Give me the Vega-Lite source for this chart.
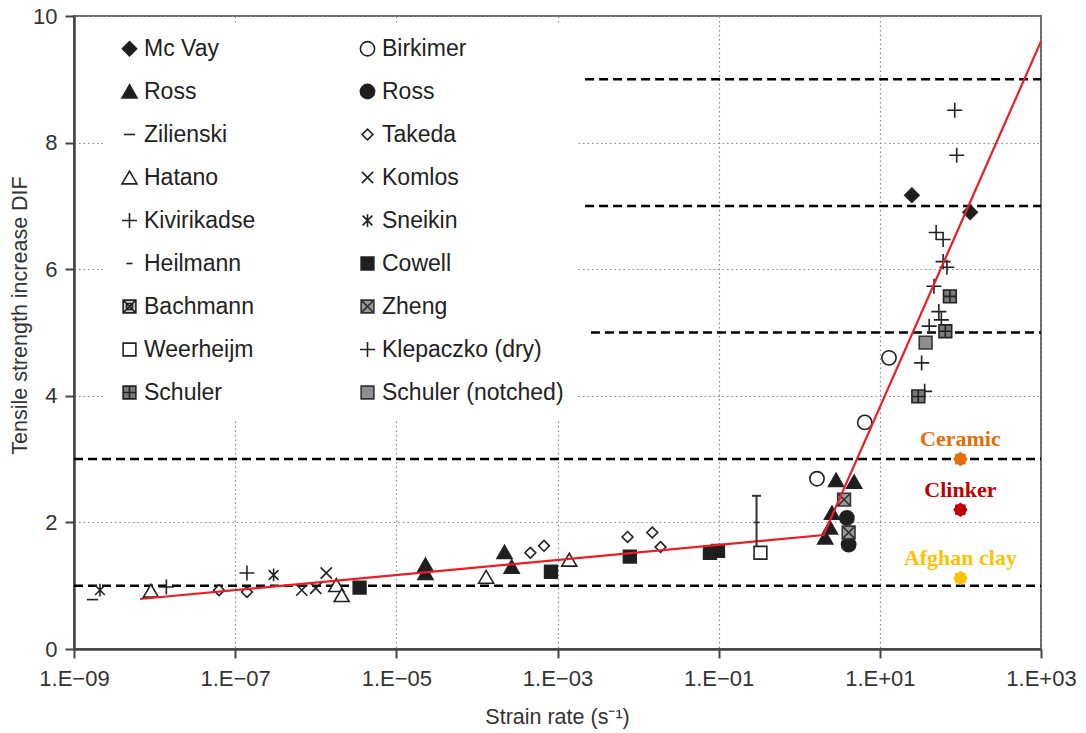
{
  "$schema": "https://vega.github.io/schema/vega-lite/v6.json",
  "width": 967,
  "height": 633,
  "autosize": "none",
  "padding": {"left": 74, "top": 16, "right": 45, "bottom": 84},
  "background": "white",
  "config": {
    "view": {"stroke": "#6a6a6a", "strokeWidth": 2},
    "font": "Liberation Sans"
  },
  "datasets": {
    "guides": [
      {"y": 1, "x0": 1e-9, "x1": 1000},
      {"y": 3, "x0": 1e-9, "x1": 1000},
      {"y": 5, "x0": 0.0026, "x1": 1000},
      {"y": 7, "x0": 0.0022, "x1": 1000},
      {"y": 9, "x0": 0.0022, "x1": 1000}
    ],
    "fit": [
      {"x": 6.6e-9, "y": 0.79},
      {"x": 2.0, "y": 1.8},
      {"x": 1000, "y": 9.6}
    ],
    "tests": [
      {"study": "Zilienski", "x": 1.7e-9, "y": 0.78},
      {"study": "Sneikin", "x": 2.1e-9, "y": 0.93},
      {"study": "Sneikin", "x": 3.0e-7, "y": 1.17},
      {"study": "Hatano", "x": 9.0e-9, "y": 0.92},
      {"study": "Hatano", "x": 1.8e-6, "y": 1.01},
      {"study": "Hatano", "x": 2.1e-6, "y": 0.85},
      {"study": "Hatano", "x": 1.3e-4, "y": 1.14},
      {"study": "Hatano", "x": 1.4e-3, "y": 1.41},
      {"study": "Kivirikadse", "x": 1.4e-8, "y": 0.98},
      {"study": "Kivirikadse", "x": 1.4e-7, "y": 1.2},
      {"study": "Takeda", "x": 6.3e-8, "y": 0.93},
      {"study": "Takeda", "x": 1.4e-7, "y": 0.9},
      {"study": "Takeda", "x": 4.6e-4, "y": 1.52},
      {"study": "Takeda", "x": 6.8e-4, "y": 1.63},
      {"study": "Takeda", "x": 7.4e-3, "y": 1.77},
      {"study": "Takeda", "x": 1.5e-2, "y": 1.84},
      {"study": "Takeda", "x": 1.9e-2, "y": 1.61},
      {"study": "Komlos", "x": 6.7e-7, "y": 0.93},
      {"study": "Komlos", "x": 1.0e-6, "y": 0.96},
      {"study": "Komlos", "x": 1.35e-6, "y": 1.2},
      {"study": "Cowell", "x": 3.5e-6, "y": 0.97},
      {"study": "Cowell", "x": 8.3e-4, "y": 1.22},
      {"study": "Cowell", "x": 7.9e-3, "y": 1.46},
      {"study": "Cowell", "x": 0.078, "y": 1.52},
      {"study": "Cowell", "x": 0.098, "y": 1.55},
      {"study": "Ross", "x": 2.3e-5, "y": 1.33},
      {"study": "Ross", "x": 2.3e-5, "y": 1.2},
      {"study": "Ross", "x": 2.2e-4, "y": 1.53},
      {"study": "Ross", "x": 2.7e-4, "y": 1.3},
      {"study": "Ross", "x": 2.86, "y": 2.67},
      {"study": "Ross", "x": 4.8, "y": 2.64},
      {"study": "Ross", "x": 2.55, "y": 2.15},
      {"study": "Ross", "x": 2.1, "y": 1.76},
      {"study": "Ross", "x": 2.4, "y": 1.92},
      {"study": "Weerheijm", "x": 0.33, "y": 1.52},
      {"study": "Heilmann", "x": 0.295, "y": 2.0},
      {"study": "Birkimer", "x": 1.66, "y": 2.69},
      {"study": "Birkimer", "x": 6.5, "y": 3.58},
      {"study": "Birkimer", "x": 13, "y": 4.6},
      {"study": "Ross ", "x": 3.9, "y": 2.07},
      {"study": "Ross ", "x": 4.1, "y": 1.65},
      {"study": "Zheng", "x": 3.6, "y": 2.36},
      {"study": "Zheng", "x": 4.1, "y": 1.84},
      {"study": "Mc Vay", "x": 25, "y": 7.17},
      {"study": "Mc Vay", "x": 132, "y": 6.9},
      {"study": "Klepaczko (dry)", "x": 85, "y": 8.51},
      {"study": "Klepaczko (dry)", "x": 90, "y": 7.8},
      {"study": "Klepaczko (dry)", "x": 50, "y": 6.58},
      {"study": "Klepaczko (dry)", "x": 61, "y": 6.47},
      {"study": "Klepaczko (dry)", "x": 61, "y": 6.12},
      {"study": "Klepaczko (dry)", "x": 68, "y": 6.03},
      {"study": "Klepaczko (dry)", "x": 47, "y": 5.73},
      {"study": "Klepaczko (dry)", "x": 54, "y": 5.33},
      {"study": "Klepaczko (dry)", "x": 58, "y": 5.2},
      {"study": "Klepaczko (dry)", "x": 41, "y": 5.1},
      {"study": "Klepaczko (dry)", "x": 33, "y": 4.52},
      {"study": "Klepaczko (dry)", "x": 36, "y": 4.07},
      {"study": "Schuler", "x": 74, "y": 5.57},
      {"study": "Schuler", "x": 65, "y": 5.02},
      {"study": "Schuler", "x": 30, "y": 3.99},
      {"study": "Schuler (notched)", "x": 37, "y": 4.84}
    ],
    "spread": [
      {"x": 0.295, "lo": 1.62, "hi": 2.42}
    ],
    "materials": [
      {"material": "Ceramic", "x": 100, "y": 3.0},
      {"material": "Clinker", "x": 100, "y": 2.2},
      {"material": "Afghan clay", "x": 100, "y": 1.12}
    ]
  },
  "layer": [
    {
      "data": {"name": "guides"},
      "mark": {"type": "rule", "color": "black", "strokeWidth": 2.5, "strokeDash": [9, 5]},
      "encoding": {
        "x": {
          "field": "x0",
          "type": "quantitative",
          "scale": {"type": "log", "domain": [1e-9, 1000], "nice": false},
          "axis": {
            "values": [1e-9, 1e-7, 1e-5, 0.001, 0.1, 10, 1000],
            "labelExpr": "'1.E' + (datum.value < 1 ? '\u2212' : '+') + (abs(round(log(datum.value) / LN10)) < 10 ? '0' : '') + abs(round(log(datum.value) / LN10))",
            "title": "Strain rate (s\u207B\u00B9)",
            "grid": true,
            "gridColor": "#8a8a8a",
            "gridDash": [1.5, 3],
            "gridWidth": 1.2,
            "domainColor": "#444",
            "domainWidth": 2.5,
            "tickColor": "#444",
            "tickWidth": 2,
            "tickSize": 9,
            "labelFont": "Liberation Sans",
            "labelFontSize": 22,
            "labelColor": "#333",
            "labelPadding": 10,
            "labelFlush": false,
            "labelOverlap": false,
            "titleFont": "Liberation Sans",
            "titleFontSize": 21.5,
            "titleFontWeight": "normal",
            "titleColor": "#333",
            "titleX": 483,
            "titleY": 68,
            "titleBaseline": "middle"
          }
        },
        "x2": {"field": "x1"},
        "y": {
          "field": "y",
          "type": "quantitative",
          "scale": {"domain": [0, 10], "nice": false, "zero": true},
          "axis": {
            "values": [0, 2, 4, 6, 8, 10],
            "format": "d",
            "title": "Tensile strength increase DIF",
            "grid": true,
            "gridColor": "#8a8a8a",
            "gridDash": [1.5, 3],
            "gridWidth": 1.2,
            "domainColor": "#444",
            "domainWidth": 2.5,
            "tickColor": "#444",
            "tickWidth": 2,
            "tickSize": 9,
            "labelFont": "Liberation Sans",
            "labelFontSize": 22,
            "labelColor": "#333",
            "labelPadding": 8,
            "labelFlush": false,
            "titleFont": "Liberation Sans",
            "titleFontSize": 21.5,
            "titleFontWeight": "normal",
            "titleColor": "#333",
            "titleX": -54,
            "titleY": 299,
            "titleAngle": -90,
            "titleAlign": "center",
            "titleBaseline": "middle"
          }
        }
      }
    },
    {
      "data": {"name": "tests"},
      "mark": {"type": "point", "filled": true, "opacity": 1, "strokeWidth": 1.6, "size": 225},
      "encoding": {
        "x": {"field": "x", "type": "quantitative", "scale": {"type": "log", "domain": [1e-9, 1000], "nice": false}},
        "y": {"field": "y", "type": "quantitative", "scale": {"domain": [0, 10], "nice": false}},
        "shape": {
          "field": "study",
          "type": "nominal",
          "scale": {
            "domain": ["Mc Vay", "Ross", "Zilienski", "Hatano", "Kivirikadse", "Heilmann", "Bachmann", "Weerheijm", "Schuler", "Birkimer", "Ross ", "Takeda", "Komlos", "Sneikin", "Cowell", "Zheng", "Klepaczko (dry)", "Schuler (notched)"],
            "range": [
              "M0,-0.95L0.95,0L0,0.95L-0.95,0Z",
              "M0,-0.9L1,0.85L-1,0.85Z",
              "M-0.75,0H0.75",
              "M0,-0.85L1,0.85L-1,0.85Z",
              "M-1,0H1M0,-1V1",
              "M-0.4,0H0.4",
              "M-0.85,-0.85H0.85V0.85H-0.85Z M-0.85,-0.85L0.85,0.85M0.85,-0.85L-0.85,0.85 M-0.4,-0.4H0.4V0.4H-0.4Z",
              "M-0.85,-0.85H0.85V0.85H-0.85Z",
              "M-0.85,-0.85H0.85V0.85H-0.85Z M0,-0.85V0.85 M-0.85,0H0.85",
              "M0.95,0A0.95,0.95 0 1,1 -0.95,0A0.95,0.95 0 1,1 0.95,0Z",
              "M0.95,0A0.95,0.95 0 1,1 -0.95,0A0.95,0.95 0 1,1 0.95,0Z",
              "M0,-0.72L0.72,0L0,0.72L-0.72,0Z",
              "M-0.75,-0.75L0.75,0.75M0.75,-0.75L-0.75,0.75",
              "M-0.65,-0.65L0.65,0.65M0.65,-0.65L-0.65,0.65M0,-0.85V0.85",
              "M-0.85,-0.85H0.85V0.85H-0.85Z",
              "M-0.85,-0.85H0.85V0.85H-0.85Z M-0.85,-0.85L0.85,0.85M0.85,-0.85L-0.85,0.85",
              "M-1,0H1M0,-1V1",
              "M-0.85,-0.85H0.85V0.85H-0.85Z"
            ]
          },
          "legend": {
            "title": null,
            "orient": "none",
            "legendX": 30,
            "legendY": 7,
            "columns": 2,
            "columnPadding": 100,
            "rowPadding": 19,
            "padding": 14,
            "fillColor": "white",
            "labelFont": "Liberation Sans",
            "labelFontSize": 23,
            "labelColor": "#222",
            "labelLimit": 400,
            "labelOffset": 3,
            "symbolSize": 225,
            "symbolStrokeWidth": 1.6,
            "symbolOpacity": 1,
            "zindex": 2
          }
        },
        "fill": {
          "field": "study",
          "type": "nominal",
          "scale": {
            "domain": ["Mc Vay", "Ross", "Zilienski", "Hatano", "Kivirikadse", "Heilmann", "Bachmann", "Weerheijm", "Schuler", "Birkimer", "Ross ", "Takeda", "Komlos", "Sneikin", "Cowell", "Zheng", "Klepaczko (dry)", "Schuler (notched)"],
            "range": ["#1e1e1e", "#1e1e1e", "transparent", "white", "transparent", "transparent", "#d0d0d0", "white", "#7a7a7a", "white", "#1e1e1e", "white", "transparent", "transparent", "#1e1e1e", "#9a9a9a", "transparent", "#8e8e8e"]
          }
        },
        "stroke": {
          "field": "study",
          "type": "nominal",
          "scale": {
            "domain": ["Mc Vay", "Ross", "Zilienski", "Hatano", "Kivirikadse", "Heilmann", "Bachmann", "Weerheijm", "Schuler", "Birkimer", "Ross ", "Takeda", "Komlos", "Sneikin", "Cowell", "Zheng", "Klepaczko (dry)", "Schuler (notched)"],
            "range": ["#222", "#222", "#222", "#222", "#222", "#222", "#222", "#222", "#222", "#222", "#222", "#222", "#222", "#222", "#222", "#333", "#222", "#333"]
          }
        }
      }
    },
    {
      "data": {"name": "fit"},
      "mark": {"type": "line", "color": "#ee1c25", "strokeWidth": 2.2},
      "encoding": {
        "x": {"field": "x", "type": "quantitative", "scale": {"type": "log", "domain": [1e-9, 1000], "nice": false}},
        "y": {"field": "y", "type": "quantitative", "scale": {"domain": [0, 10], "nice": false}}
      }
    },
    {
      "data": {"name": "spread"},
      "mark": {"type": "rule", "color": "#333", "strokeWidth": 2},
      "encoding": {
        "x": {"field": "x", "type": "quantitative", "scale": {"type": "log", "domain": [1e-9, 1000], "nice": false}},
        "y": {"field": "lo", "type": "quantitative", "scale": {"domain": [0, 10], "nice": false}},
        "y2": {"field": "hi"}
      }
    },
    {
      "data": {"name": "spread"},
      "mark": {"type": "tick", "orient": "horizontal", "color": "#333", "thickness": 2, "size": 9, "opacity": 1},
      "encoding": {
        "x": {"field": "x", "type": "quantitative", "scale": {"type": "log", "domain": [1e-9, 1000], "nice": false}},
        "y": {"field": "hi", "type": "quantitative", "scale": {"domain": [0, 10], "nice": false}}
      }
    },
    {
      "data": {"name": "materials"},
      "mark": {
        "type": "point",
        "filled": true,
        "opacity": 1,
        "size": 210,
        "shape": "M1,0L0.758,0.314L0.707,0.707L0.314,0.758L0,1L-0.314,0.758L-0.707,0.707L-0.758,0.314L-1,0L-0.758,-0.314L-0.707,-0.707L-0.314,-0.758L0,-1L0.314,-0.758L0.707,-0.707L0.758,-0.314Z"
      },
      "encoding": {
        "x": {"field": "x", "type": "quantitative", "scale": {"type": "log", "domain": [1e-9, 1000], "nice": false}},
        "y": {"field": "y", "type": "quantitative", "scale": {"domain": [0, 10], "nice": false}},
        "color": {
          "field": "material",
          "type": "nominal",
          "scale": {"domain": ["Ceramic", "Clinker", "Afghan clay"], "range": ["#e46c0a", "#c00000", "#ffc000"]},
          "legend": null
        }
      }
    },
    {
      "data": {"name": "materials"},
      "mark": {"type": "text", "font": "Liberation Serif", "fontWeight": "bold", "fontSize": 22, "dy": -20, "baseline": "middle", "align": "center"},
      "encoding": {
        "x": {"field": "x", "type": "quantitative", "scale": {"type": "log", "domain": [1e-9, 1000], "nice": false}},
        "y": {"field": "y", "type": "quantitative", "scale": {"domain": [0, 10], "nice": false}},
        "text": {"field": "material"},
        "color": {
          "field": "material",
          "type": "nominal",
          "scale": {"domain": ["Ceramic", "Clinker", "Afghan clay"], "range": ["#e46c0a", "#c00000", "#ffc000"]},
          "legend": null
        }
      }
    }
  ]
}
